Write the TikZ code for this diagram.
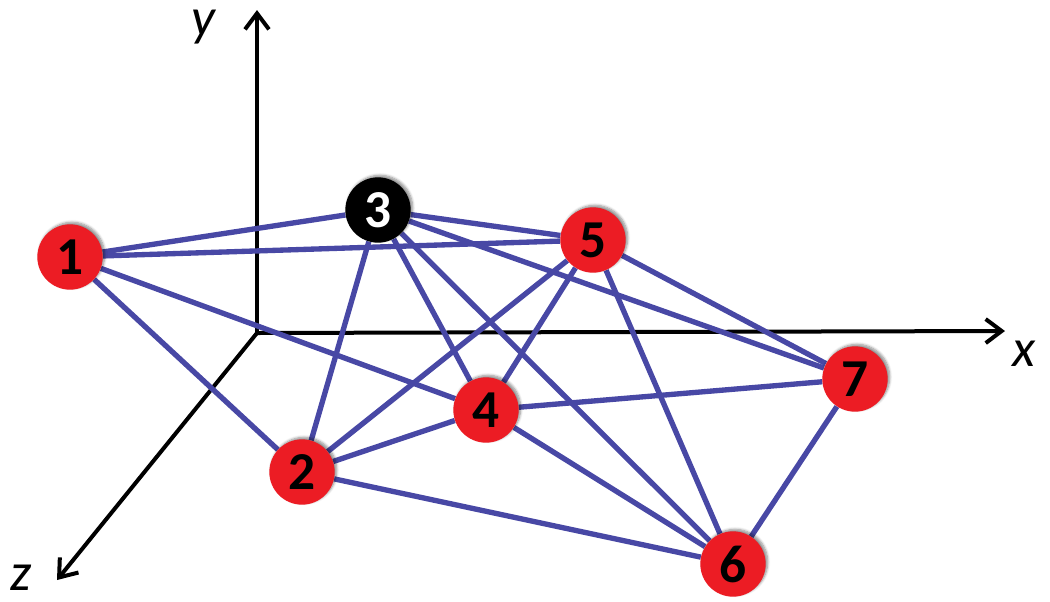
\documentclass[tikz,border=0pt]{standalone}
\usepackage{fontspec}
\setmainfont{Carlito}
\usetikzlibrary{arrows.meta,shadows.blur}
\definecolor{edgeblue}{RGB}{72,72,165}
\definecolor{nodered}{RGB}{236,28,36}
\tikzset{
  vert/.style={circle, minimum size=49pt, inner sep=0pt, fill=nodered,
    font=\fontsize{40}{40}\selectfont\bfseries, text=black,
    blur shadow={shadow xshift=1.5pt, shadow yshift=1.5pt, shadow blur steps=6, shadow opacity=45}},
  blackvert/.style={vert, fill=black, text=white},
  link/.style={draw=edgeblue, line width=4pt},
  axis/.style={draw=black, line width=3pt, -{Straight Barb[length=12pt,width=18pt,line width=3pt]}},
  axlabel/.style={font=\fontsize{40}{40}\selectfont\itshape, inner sep=0pt}
}
\begin{document}
\begin{tikzpicture}[x=0.75pt,y=-0.75pt]
\useasboundingbox (0,0) rectangle (1050,601);
% axes
\coordinate (O) at (257,333);
\coordinate (Y) at (257,10);
\coordinate (X) at (1005,331);
\coordinate (Z) at (57,580);
\draw[axis] (O) -- (Y);
\draw[axis] (O) -- (X);
\draw[axis] (O) -- (Z);
\node[axlabel] (ly) at (203,27) {y};
\node[axlabel] (lx) at (1024,354) {x};
\node[axlabel] (lz) at (21,578) {z};
% node positions
\coordinate (p1) at (70,257);
\coordinate (p2) at (302,472);
\coordinate (p3) at (378,210);
\coordinate (p4) at (486,410);
\coordinate (p5) at (593,240);
\coordinate (p6) at (733,564);
\coordinate (p7) at (855,379);
% invisible nodes for edge clipping
\foreach \i in {1,...,7} {\node[circle, minimum size=49pt, inner sep=0pt] (n\i) at (p\i) {};}
% edges
\foreach \a/\b in {1/3,1/5,1/4,1/2,3/5,3/7,3/2,3/4,3/6,5/7,5/2,5/4,5/6,4/2,4/7,4/6,2/6,7/6}
  {\draw[link] (n\a) -- (n\b);}
% vertices
\node[vert] (v1) at (p1) {1};
\node[vert] (v2) at (p2) {2};
\node[blackvert] (v3) at (p3) {3};
\node[vert] (v4) at (p4) {4};
\node[vert] (v5) at (p5) {5};
\node[vert] (v6) at (p6) {6};
\node[vert] (v7) at (p7) {7};
\end{tikzpicture}
\end{document}
